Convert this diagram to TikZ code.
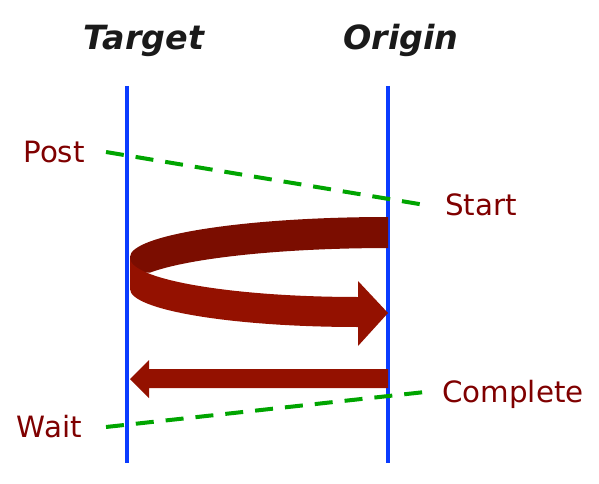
\documentclass[tikz,border=0pt]{standalone}
\usepackage{fontspec}
\setmainfont{DejaVu Sans}
\usetikzlibrary{positioning}
\definecolor{cLife}{HTML}{0A3CFF}
\definecolor{cSync}{HTML}{00A500}
\definecolor{cLabel}{HTML}{7F0000}
\definecolor{cBack}{HTML}{7B0D00}
\definecolor{cFront}{HTML}{941100}
\definecolor{cInk}{HTML}{1A1A1A}
\tikzset{
  lifeline/.style={draw=cLife, line width=3pt},
  sync/.style={draw=cSync, line width=3pt, dash pattern=on 13.5pt off 9pt},
  title/.style={font=\fontsize{25}{30}\selectfont\bfseries\itshape, text=cInk,
                inner sep=0pt, anchor=base},
  evt/.style={font=\fontsize{22}{26}\selectfont, text=cLabel, inner sep=0pt,
              text height=16pt, text depth=0pt},
}

\begin{document}
\begin{tikzpicture}[x=0.75pt,y=0.75pt]
\useasboundingbox (0,0) rectangle (599,483);

% ---------------------------------------------------------------- the two sides
\node[title] (target) at (144,433) {Target};
\node[title] (origin) at (401,433) {Origin};

\coordinate (tgtTop) at (127,397);
\coordinate (tgtBot) at (127,20);
\coordinate (orgTop) at (388,397);
\coordinate (orgBot) at (388,20);
\draw[lifeline] (tgtTop) -- (tgtBot);
\draw[lifeline] (orgTop) -- (orgBot);

% ---------------------------------------------------------------- events
\node[evt, anchor=east] (post)     at (85,331)  {Post};
\node[evt, anchor=west] (start)    at (445,278) {Start};
\node[evt, anchor=east] (wait)     at (82,56)   {Wait};
\node[evt, anchor=west] (complete) at (442,91)  {Complete};

\draw[sync] ([xshift=15.75pt]post.east) -- ([xshift=-15pt]start.west);
\draw[sync] ([xshift=18pt]wait.east) -- ([xshift=-12.75pt]complete.west);

% ---------------------------------------------------------------- the round trip
\fill[cBack] (388,266)
      arc[start angle=90, end angle=180, x radius=193.5pt, y radius=30pt]
      -- (130,210) -- (150,210.4)
      arc[start angle=157.3, end angle=90, x radius=193.5pt, y radius=30pt]
      -- cycle;
\fill[cFront] (130,225)
      arc[start angle=180, end angle=270, x radius=171pt, y radius=29.25pt]
      -- (358,202) -- (388,170) -- (358,137) -- (358,156)
      arc[start angle=270, end angle=180, x radius=171pt, y radius=28.5pt]
      -- cycle;

% ---------------------------------------------------------------- the reply
\fill[cFront] (388,114) -- (149,114) -- (149,123) -- (130,104)
      -- (149,85) -- (149,95) -- (388,95) -- cycle;

\end{tikzpicture}
\end{document}
